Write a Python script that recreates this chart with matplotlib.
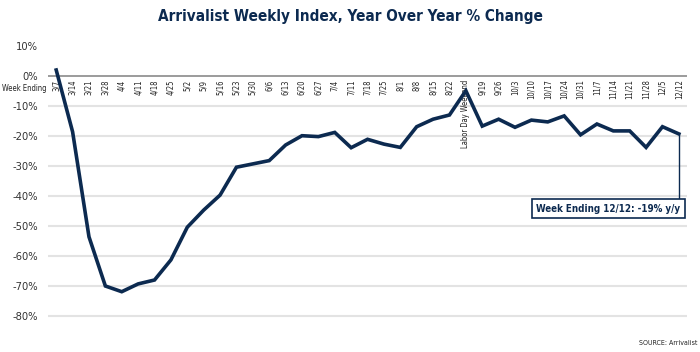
import matplotlib.pyplot as plt
import numpy as np

# weekly index, % change year over year
weeks = ["3/7", "3/14", "3/21", "3/28", "4/4", "4/11", "4/18", "4/25",
         "5/2", "5/9", "5/16", "5/23", "5/30", "6/6", "6/13", "6/20",
         "6/27", "7/4", "7/11", "7/18", "7/25", "8/1", "8/8", "8/15",
         "8/22", "Labor Day Weekend", "9/19", "9/26", "10/3", "10/10",
         "10/17", "10/24", "10/31", "11/7", "11/14", "11/21", "11/28",
         "12/5", "12/12"]
yoy = [1.9, -18.7, -53.7, -70.1, -72.0, -69.4, -68.1, -61.4,
       -50.5, -44.8, -39.8, -30.5, -29.4, -28.3, -23.1, -20.0,
       -20.3, -18.9, -24.0, -21.2, -22.8, -23.9, -17.0, -14.5,
       -13.1, -5.0, -16.8, -14.5, -17.2, -14.8,
       -15.4, -13.4, -19.7, -16.1, -18.4, -18.4, -23.9,
       -17.0, -19.4]
yticks = [10, 0, -10, -20, -30, -40, -50, -60, -70, -80]
ytick_labels = ["10%", "0%", "-10%", "-20%", "-30%", "-40%", "-50%", "-60%", "-70%", "-80%"]

navy = "#0c2a50"
fnt = dict(family=["DejaVu Sans"], fontstretch="condensed")

fig = plt.figure(figsize=(7, 3.52), dpi=100)
ax = fig.add_axes([0.0686, 0.0605, 0.9129, 0.8267])
x = np.arange(len(weeks))
ax.set_xlim(-0.5, len(weeks) - 0.5)
ax.set_ylim(-85, 12)

for s in ax.spines.values():
    s.set_visible(False)

# grid
ax.hlines([t for t in yticks if t < 0], -0.5, len(weeks) - 0.5, color="#e3e3e3", lw=1.5, zorder=1)
ax.axhline(0, color="#8a8a8a", lw=1.2, zorder=2)

ax.plot(x, yoy, color=navy, lw=2.6, solid_joinstyle="miter", zorder=3)

ax.set_xticks([])
ax.set_yticks(yticks)
ax.set_yticklabels(ytick_labels, fontsize=8, color="#333333", **fnt)
ax.tick_params(axis="y", length=0, pad=7)

for i, w in enumerate(weeks):
    ax.text(i, -1.3, w, rotation=90, ha="center", va="top", fontsize=5.5,
            color="#222222", zorder=2, **fnt)
ax.text(-0.62, -4.4, "Week Ending", ha="right", va="center", fontsize=5.5,
        color="#222222", **fnt)

# callout box for the latest week
box_top = -41.1
ax.vlines(x[-1], box_top, yoy[-1], color=navy, lw=1, zorder=2)
ax.text(38.1, -44.3, "Week Ending 12/12: -19% y/y", ha="right", va="center",
        fontsize=7, fontweight="bold", color=navy, zorder=4,
        bbox=dict(boxstyle="square,pad=0.5", fc="white", ec=navy, lw=1.2), **fnt)

fig.text(0.5, 0.952, "Arrivalist Weekly Index, Year Over Year % Change", ha="center",
         va="center", fontsize=11, fontweight="bold", color=navy, **fnt)
fig.text(0.996, 0.025, "SOURCE: Arrivalist", ha="right", va="center",
         fontsize=5, color="#222222", **fnt)

fig.savefig("out.png", dpi=100)
